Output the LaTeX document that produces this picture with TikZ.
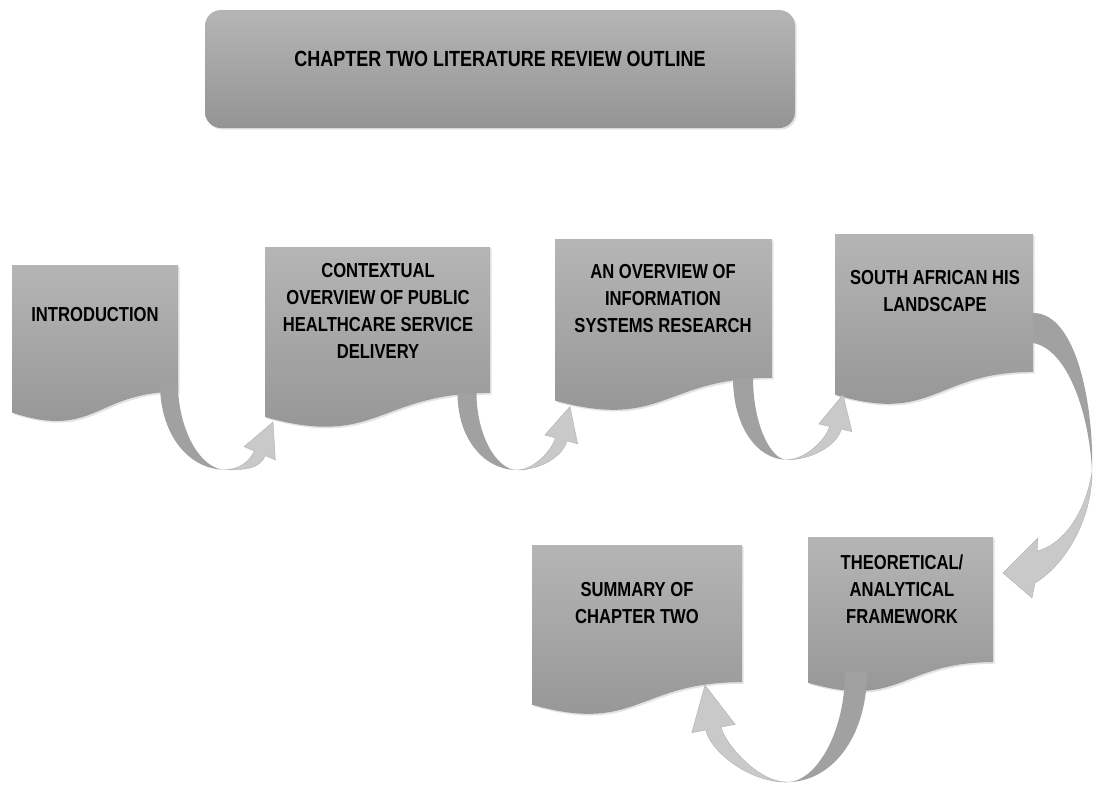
\documentclass[tikz,border=0pt]{standalone}
\usepackage{fontspec}
\setmainfont{Liberation Sans}
\newfontfamily\narrowsans{Liberation Sans}[FakeStretch=0.82]
\usetikzlibrary{calc}
\usetikzlibrary{shadows}

\tikzset{
  pagefill/.style={top color=black!29, bottom color=black!42,
    drop shadow={opacity=0.22, shadow xshift=1.2pt, shadow yshift=-1.2pt}},
  pagetext/.style={font=\narrowsans\fontsize{14.4}{19.2}\selectfont\bfseries, align=center, inner sep=0pt},
  titletext/.style={font=\narrowsans\fontsize{15.6}{18}\selectfont\bfseries, inner sep=0pt},
  banddark/.style={fill=black!37},
  bandlight/.style={fill=black!21, draw=black!30, line width=0.3pt},
}

% document page with a wavy bottom
% #1 name, #2 left, #3 top, #4 right, #5 height, #6 #7 text centre, #8 text
\newcommand{\docpage}[8]{%
  \shade[pagefill] (#2,#3) -- (#4,#3) -- (#4,{#3+0.802*#5})
    .. controls ({(#2+#4)/2},{#3+0.802*#5}) and ({(#2+#4)/2},{#3+1.1075*#5}) .. (#2,{#3+0.934*#5}) -- cycle;
  \coordinate (#1-nw) at (#2,#3);
  \coordinate (#1-ne) at (#4,#3);
  \coordinate (#1-se) at (#4,{#3+0.802*#5});
  \coordinate (#1-sw) at (#2,{#3+0.934*#5});
  \node[pagetext] (#1) at (#6,#7) {#8};
}

% curved ribbon arrow: down from #1, turning at #2, up to the tip #3
% #4 head angle (tip to base), #5 side (1 or -1), #6 half band width, #7 head scale
\newcommand{\bendup}[7]{%
  \coordinate (#1-o) at ($(#1)+({-(#6)*(#5)},0)$);
  \coordinate (#1-i) at ($(#1)+({(#6)*(#5)},0)$);
  \coordinate (#3-h) at ($(#3)+(#4:{34*#7})$);
  \coordinate (#3-no) at ($(#3-h)+({#4-(#5)*90}:{6*#7})$);
  \coordinate (#3-ni) at ($(#3-h)+({#4+(#5)*90}:{6*#7})$);
  \coordinate (#3-bo) at ($(#3-h)+({#4-(#5)*90}:{17*#7})$);
  \coordinate (#3-bi) at ($(#3-h)+({#4+(#5)*90}:{17*#7})$);
  \fill[banddark] (#1-o) .. controls ($(#1-o)!0.6!(#1-o|-#2)$) and ($(#2)!0.55!(#1-o|-#2)$) .. (#2)
    .. controls ($(#2)!0.5!(#1-i|-#2)$) and ($(#1-i)!0.55!(#1-i|-#2)$) .. (#1-i) -- cycle;
  \filldraw[bandlight] (#2) .. controls ($(#2)!0.5!(#3-no|-#2)$) and ($(#3-no)+(#4:{15*#7})$) .. (#3-no)
    -- (#3-bo) -- (#3) -- (#3-bi) -- (#3-ni)
    .. controls ($(#3-ni)+(#4:{12*#7})$) and ($(#2)!0.45!(#3-ni|-#2)$) .. (#2) -- cycle;
}

\begin{document}
\begin{tikzpicture}[x=0.025cm, y=-0.025cm]
  \useasboundingbox (0,0) rectangle (1094,785);

  % title
  \shade[pagefill, rounded corners=0.4cm] (205,10) rectangle (795,128);
  \node[titletext] (title) at (500,59) {CHAPTER TWO LITERATURE REVIEW OUTLINE};

  % pages
  \docpage{intro}{12}{265}{178}{158}{95}{315}{INTRODUCTION}
  \docpage{context}{265}{247}{490}{182}{378}{311}{CONTEXTUAL\\OVERVIEW OF PUBLIC\\HEALTHCARE SERVICE\\DELIVERY}
  \docpage{overview}{555}{239}{772}{173}{663}{299}{AN OVERVIEW OF\\INFORMATION\\SYSTEMS RESEARCH}
  \docpage{south}{835}{234}{1033}{172}{935}{291}{SOUTH AFRICAN HIS\\LANDSCAPE}
  \docpage{theory}{808}{537}{993}{156}{902}{589}{THEORETICAL/\\ANALYTICAL\\FRAMEWORK}
  \docpage{summary}{532}{545}{742}{171}{637}{603}{SUMMARY OF\\CHAPTER TWO}

  % arrows along the top row
  \coordinate (a1s) at ($(intro-se)+(-9,-8)$);
  \coordinate (a1b) at ($(intro-se)+(47,78)$);
  \coordinate (a1t) at ($(context-sw)+(8,5)$);
  \bendup{a1s}{a1b}{a1t}{113}{1}{9}{1}

  \coordinate (a2s) at ($(context-se)+(-23,0)$);
  \coordinate (a2b) at ($(context-se)+(27,77)$);
  \coordinate (a2t) at ($(overview-sw)+(15,6)$);
  \bendup{a2s}{a2b}{a2t}{105}{1}{9.5}{1}

  \coordinate (a3s) at ($(overview-se)+(-29,0)$);
  \coordinate (a3b) at ($(overview-se)+(15,82)$);
  \coordinate (a3t) at ($(south-sw)+(8,0)$);
  \bendup{a3s}{a3b}{a3t}{103}{1}{10}{1}

  % arrow down the right side
  \coordinate (a4s) at ($(south-se)+(0,-44)$);
  \coordinate (a4t) at ($(theory-ne)+(10,36)$);
  \coordinate (a4b) at ($(a4s)+(59,144)$);
  \fill[banddark] ($(a4s)+(0,-15)$) .. controls ($(a4s)+(45,-15)$) and ($(a4s)+(61,82)$) .. (a4b)
    .. controls ($(a4s)+(57,92)$) and ($(a4s)+(37,22)$) .. ($(a4s)+(0,15)$) -- cycle;
  \filldraw[bandlight] (a4b) .. controls ($(a4s)+(59,192)$) and ($(a4t)+(62,-8)$) .. ($(a4t)+(32,10)$)
    -- ($(a4t)+(29,25)$) -- (a4t) -- ($(a4t)+(35,-35)$) -- ($(a4t)+(34,-22)$)
    .. controls ($(a4t)+(59,-28)$) and ($(a4s)+(52,187)$) .. (a4b) -- cycle;

  % arrow back to the summary
  \coordinate (a5s) at ($(theory-se)+(-137,10)$);
  \coordinate (a5b) at ($(theory-se)+(-206,120)$);
  \coordinate (a5t) at ($(summary-se)+(-37,3)$);
  \bendup{a5s}{a5b}{a5t}{79}{-1}{11}{1.3}
\end{tikzpicture}
\end{document}
